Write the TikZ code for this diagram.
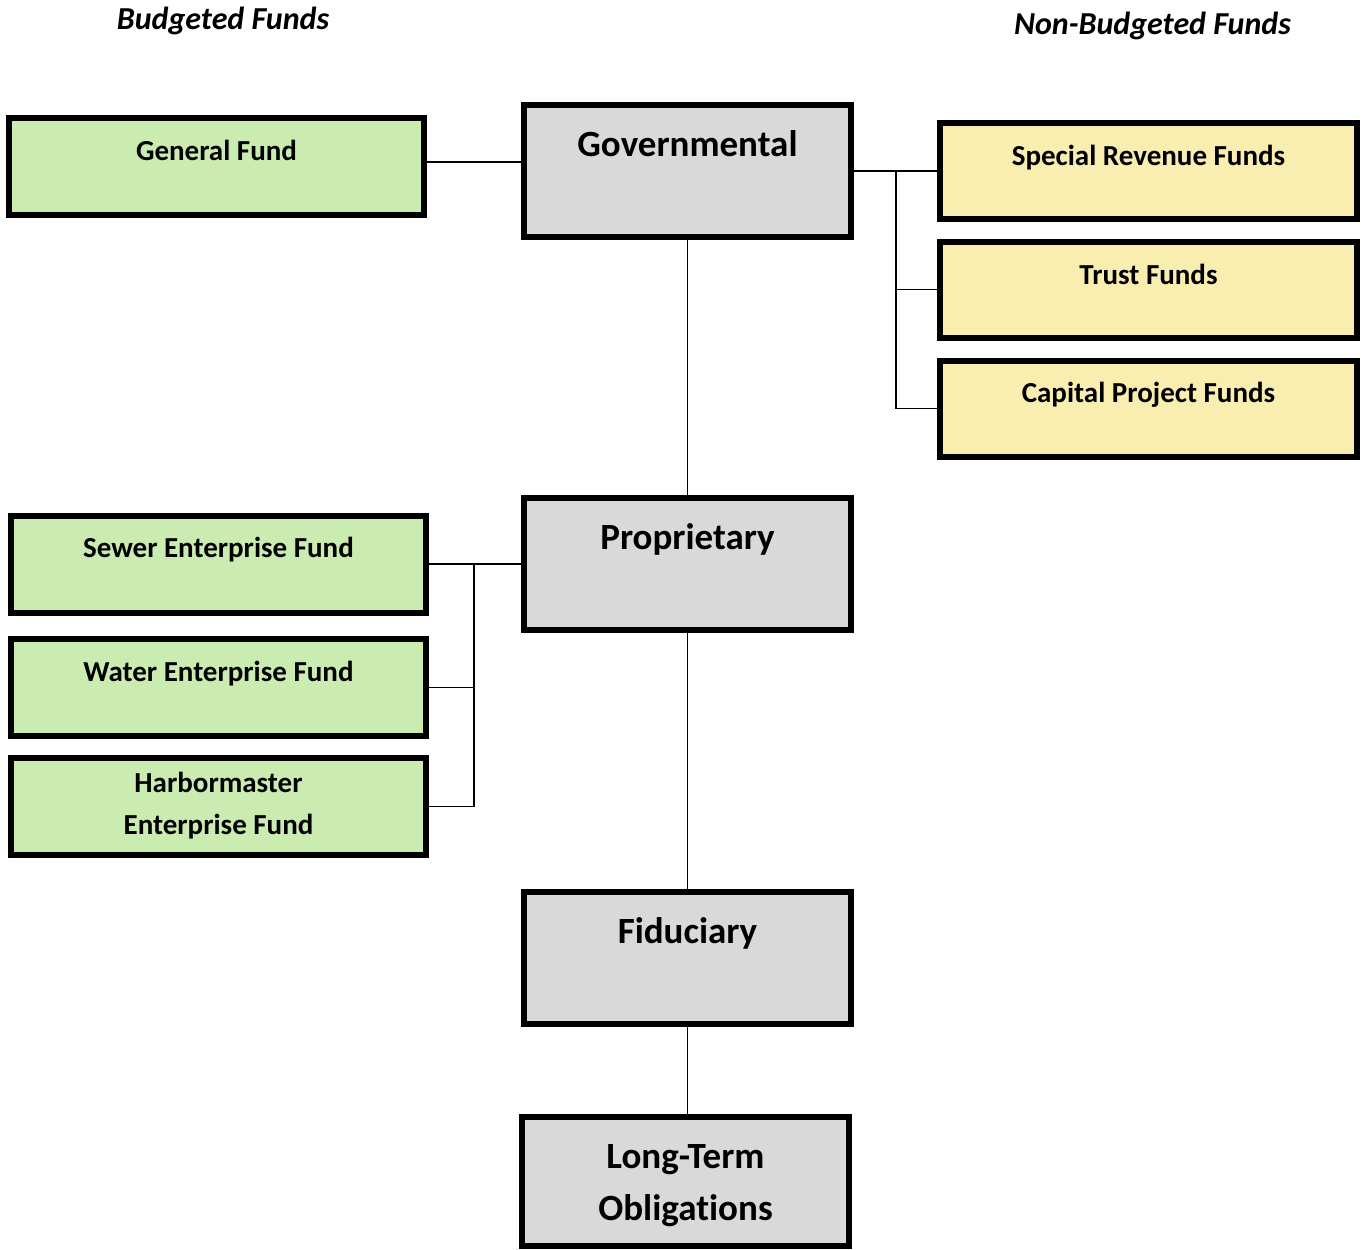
\documentclass[tikz,border=0pt]{standalone}
\usepackage{fontspec}
\setmainfont{Carlito}[Ligatures=NoCommon]
\usetikzlibrary{positioning}

\definecolor{budgreen}{RGB}{203,236,176}
\definecolor{nonyellow}{RGB}{250,237,176}
\definecolor{typegray}{RGB}{217,217,217}

\tikzset{
  fundbox/.style={draw=black, line width=3pt, rectangle, inner sep=0pt,
    minimum width=207.5pt, minimum height=48.5pt},
  budbox/.style={fundbox, fill=budgreen},
  nonbox/.style={fundbox, fill=nonyellow, minimum width=208.5pt, minimum height=48pt},
  typebox/.style={fundbox, fill=typegray, minimum width=163.5pt, minimum height=66pt},
  fundtext/.style={anchor=base, inner sep=0pt, align=center,
    font=\bfseries\fontsize{14.5}{21}\selectfont},
  typetext/.style={anchor=base, inner sep=0pt, align=center,
    font=\bfseries\fontsize{18.5}{26}\selectfont},
  headtext/.style={anchor=base, inner sep=0pt,
    font=\bfseries\itshape\fontsize{16}{18}\selectfont},
  link/.style={line width=0.8pt}
}

\begin{document}
\begin{tikzpicture}[x=0.5pt, y=-0.5pt]
    \useasboundingbox (0,0) rectangle (1364,1249);

    % column headings
    \node[headtext] (budhead) at (223,29) {Budgeted Funds};
    \node[headtext] (nonhead) at (1152.5,34) {Non-Budgeted Funds};

    % fund types down the middle
    \node[typebox] (gov) at (687.5,171) {};
    \node[typebox] (prop) at (687.5,564) {};
    \node[typebox] (fid) at (687.5,958) {};
    \node[typebox, minimum height=64.5pt] (lto) at (685.5,1181.5) {};
    \node[typetext] (govt) at (687.5,156) {Governmental};
    \node[typetext] (propt) at (687.5,549) {Proprietary};
    \node[typetext] (fidt) at (687.5,943) {Fiduciary};
    % base of a two-line node sits on its last line
    \node[typetext] (ltot) at (685.5,1220) {Long-Term\\Obligations};

    % budgeted funds on the left
    \node[budbox] (gen) at (216.5,166.5) {};
    \node[budbox] (sewer) at (218.5,564) {};
    \node[budbox] (water) at (218.5,687.5) {};
    \node[budbox] (harbor) at (218.5,806.5) {};
    \node[fundtext] (gent) at (216.5,160) {General Fund};
    \node[fundtext] (sewert) at (218.5,557) {Sewer Enterprise Fund};
    \node[fundtext] (watert) at (218.5,681) {Water Enterprise Fund};
    \node[fundtext] (harbort) at (218.5,834) {Harbormaster\\Enterprise Fund};

    % non-budgeted funds on the right
    \node[nonbox] (srf) at (1148.5,171) {};
    \node[nonbox] (trust) at (1148.5,289.5) {};
    \node[nonbox] (cap) at (1148.5,408.5) {};
    \node[fundtext] (srft) at (1148.5,165) {Special Revenue Funds};
    \node[fundtext] (trustt) at (1148.5,284) {Trust Funds};
    \node[fundtext] (capt) at (1148.5,402) {Capital Project Funds};

    % connectors
    \coordinate (genlink) at (427,162);
    \draw[link] (genlink) -- (gov.west |- genlink);
    \draw[link] (gov.south) -- (prop.north);
    \draw[link] (prop.south) -- (fid.north);
    \draw[link] (fid.south) -- (fid.south |- lto.north);

    \coordinate (gbus) at (896,171);
    \draw[link] (gov.east) -- (srf.west);
    \draw[link] (gbus) |- (trust.west);
    \draw[link] (gbus) |- (cap.west);

    \coordinate (pbus) at (474,564);
    \draw[link] (prop.west) -- (sewer.east);
    \draw[link] (pbus) |- (water.east);
    \draw[link] (pbus) |- (harbor.east);
\end{tikzpicture}
\end{document}
